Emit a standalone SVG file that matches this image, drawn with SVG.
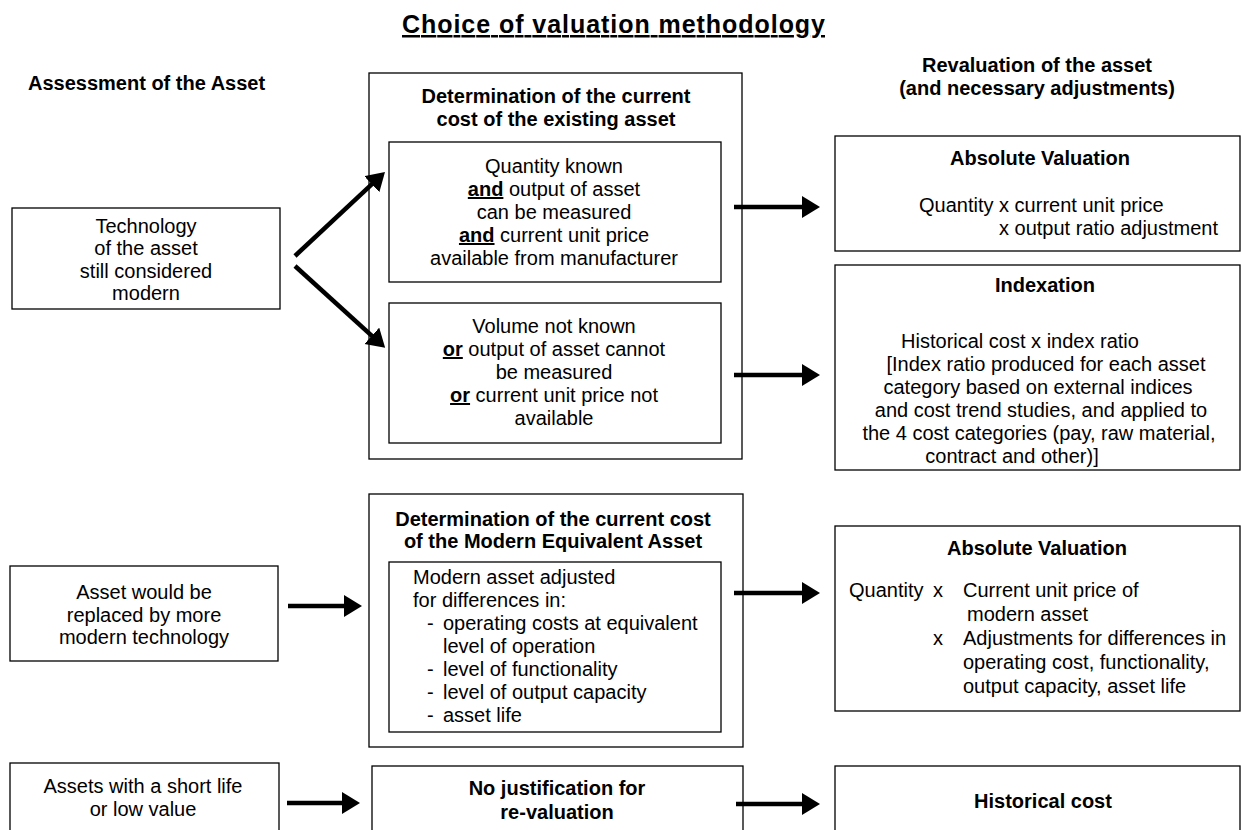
<svg xmlns="http://www.w3.org/2000/svg" width="1242" height="830" viewBox="0 0 1242 830">
<defs>
<style>
.box{fill:#fff;stroke:#000;stroke-width:1.3}
.t{font-family:'Liberation Sans',Arial,Helvetica,sans-serif;font-size:20px;fill:#000}
.b{font-weight:bold}
.c{text-anchor:middle}
.u{text-decoration:underline}
.conn{stroke:#000;stroke-width:4.5;fill:none;marker-end:url(#ah)}
</style>
<marker id="ah" markerUnits="userSpaceOnUse" markerWidth="20" markerHeight="24" refX="2" refY="11" orient="auto">
<path d="M0,0 L18,11 L0,22 z" fill="#000"/>
</marker>
</defs>
<rect width="1242" height="830" fill="#fff"/>

<g id="headers">
<text x="402" y="33" class="t b u" style="font-size:25px" textLength="423" lengthAdjust="spacing">Choice of valuation methodology</text>
<text x="28" y="90" class="t b">Assessment of the Asset</text>
<text x="1037" y="72" class="t b c">Revaluation of the asset</text>
<text x="1037" y="95" class="t b c">(and necessary adjustments)</text>
</g>

<g id="n-modern">
<rect x="12" y="208" width="268" height="101" class="box"/>
<text x="146" y="233" class="t c">Technology</text>
<text x="146" y="255" class="t c">of the asset</text>
<text x="146" y="278" class="t c">still considered</text>
<text x="146" y="300" class="t c">modern</text>
</g>

<g id="n-existing">
<rect x="369" y="73" width="373" height="386" class="box"/>
<text x="556" y="103" class="t b c">Determination of the current</text>
<text x="556" y="126" class="t b c">cost of the existing asset</text>
</g>

<g id="n-known">
<rect x="389" y="142" width="332" height="140" class="box"/>
<text x="554" y="173" class="t c">Quantity known</text>
<text x="554" y="196" class="t c"><tspan class="b u">and</tspan> output of asset</text>
<text x="554" y="219" class="t c">can be measured</text>
<text x="554" y="242" class="t c"><tspan class="b u">and</tspan> current unit price</text>
<text x="554" y="265" class="t c">available from manufacturer</text>
</g>

<g id="n-unknown">
<rect x="389" y="303" width="332" height="140" class="box"/>
<text x="554" y="333" class="t c">Volume not known</text>
<text x="554" y="356" class="t c"><tspan class="b u">or</tspan> output of asset cannot</text>
<text x="554" y="379" class="t c">be measured</text>
<text x="554" y="402" class="t c"><tspan class="b u">or</tspan> current unit price not</text>
<text x="554" y="425" class="t c">available</text>
</g>

<g id="n-absolute1">
<rect x="835" y="136" width="405" height="115" class="box"/>
<text x="1040" y="165" class="t b c">Absolute Valuation</text>
<text x="919" y="212" class="t">Quantity x current unit price</text>
<text x="999" y="235" class="t">x output ratio adjustment</text>
</g>

<g id="n-indexation">
<rect x="835" y="265" width="405" height="205" class="box"/>
<text x="1045" y="292" class="t b c">Indexation</text>
<text x="1020" y="348" class="t c">Historical cost x index ratio</text>
<text x="1046" y="371" class="t c">[Index ratio produced for each asset</text>
<text x="1038" y="394" class="t c">category based on external indices</text>
<text x="1041" y="417" class="t c">and cost trend studies, and applied to</text>
<text x="1039" y="440" class="t c">the 4 cost categories (pay, raw material,</text>
<text x="1012" y="463" class="t c">contract and other)]</text>
</g>

<g id="n-replaced">
<rect x="10" y="566" width="268" height="95" class="box"/>
<text x="144" y="599" class="t c">Asset would be</text>
<text x="144" y="622" class="t c">replaced by more</text>
<text x="144" y="644" class="t c">modern technology</text>
</g>

<g id="n-mea">
<rect x="369" y="494" width="374" height="253" class="box"/>
<text x="553" y="526" class="t b c">Determination of the current cost</text>
<text x="553" y="548" class="t b c">of the Modern Equivalent Asset</text>
<rect x="389" y="562" width="332" height="170" class="box"/>
<text x="413" y="584" class="t">Modern asset adjusted</text>
<text x="413" y="607" class="t">for differences in:</text>
<text x="427" y="630" class="t">-</text><text x="443" y="630" class="t">operating costs at equivalent</text>
<text x="443" y="653" class="t">level of operation</text>
<text x="427" y="676" class="t">-</text><text x="443" y="676" class="t">level of functionality</text>
<text x="427" y="699" class="t">-</text><text x="443" y="699" class="t">level of output capacity</text>
<text x="427" y="722" class="t">-</text><text x="443" y="722" class="t">asset life</text>
</g>

<g id="n-absolute2">
<rect x="835" y="526" width="405" height="185" class="box"/>
<text x="1037" y="555" class="t b c">Absolute Valuation</text>
<text x="849" y="597" class="t">Quantity</text>
<text x="933" y="597" class="t">x</text>
<text x="963" y="597" class="t">Current unit price of</text>
<text x="967" y="621" class="t">modern asset</text>
<text x="933" y="645" class="t">x</text>
<text x="963" y="645" class="t">Adjustments for differences in</text>
<text x="963" y="669" class="t">operating cost, functionality,</text>
<text x="963" y="693" class="t">output capacity, asset life</text>
</g>

<g id="n-short">
<rect x="10" y="763" width="269" height="80" class="box"/>
<text x="143" y="793" class="t c">Assets with a short life</text>
<text x="143" y="816" class="t c">or low value</text>
</g>

<g id="n-nojust">
<rect x="372" y="766" width="371" height="80" class="box"/>
<text x="557" y="795" class="t b c">No justification for</text>
<text x="557" y="819" class="t b c">re-valuation</text>
</g>

<g id="n-historical">
<rect x="835" y="766" width="405" height="80" class="box"/>
<text x="1043" y="808" class="t b c">Historical cost</text>
</g>

<g id="connectors">
<line x1="295" y1="256" x2="373.3" y2="182.9" class="conn"/>
<line x1="295" y1="266" x2="373.3" y2="337.1" class="conn"/>
<line x1="734" y1="207" x2="804" y2="207" class="conn"/>
<line x1="734" y1="375" x2="804" y2="375" class="conn"/>
<line x1="288" y1="606" x2="346" y2="606" class="conn"/>
<line x1="734" y1="593" x2="804" y2="593" class="conn"/>
<line x1="287" y1="803" x2="344" y2="803" class="conn"/>
<line x1="736" y1="804" x2="804" y2="804" class="conn"/>
</g>
</svg>
